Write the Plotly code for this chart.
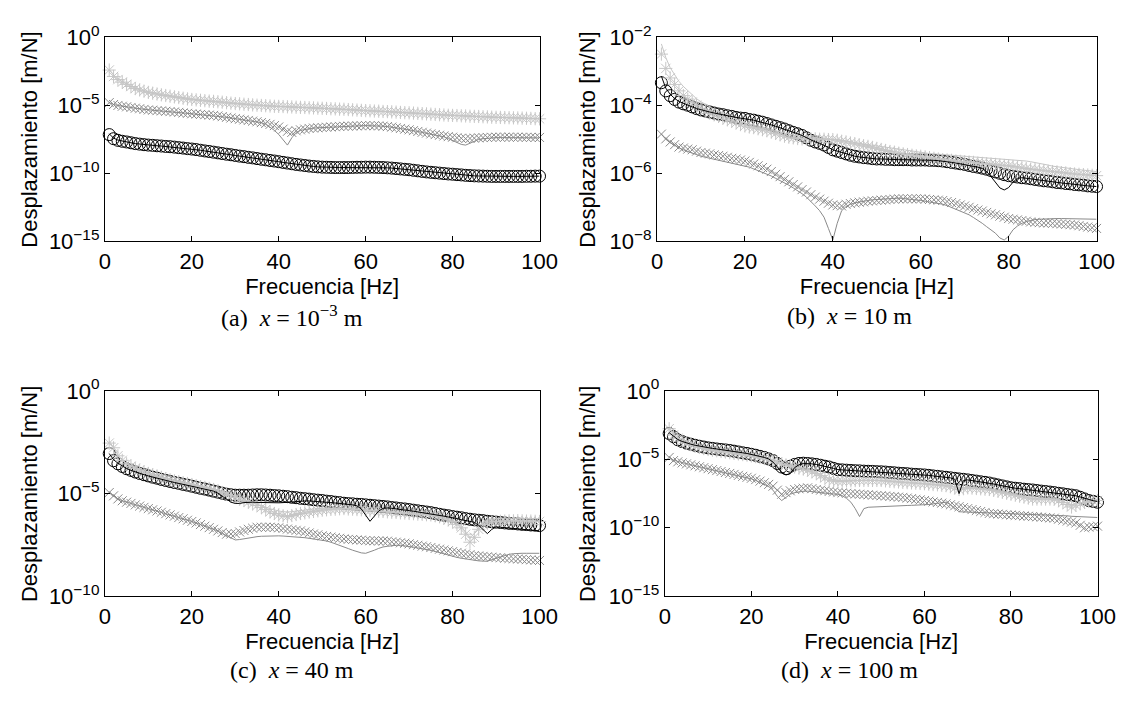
import plotly.graph_objects as go

# Frequencies of the sampled points [Hz]
freq = list(range(1, 101))

# ---- values, stored as log10(displacement [m/N]) ----
# Panel (a)  x = 1e-3 m
a_black_pts = [-7.16,-7.46,-7.58,-7.65,-7.70,-7.76,-7.82,-7.86,-7.90,-7.93,
 -7.95,-7.98,-8.00,-8.03,-8.05,-8.08,-8.12,-8.15,-8.19,-8.22,
 -8.26,-8.31,-8.36,-8.40,-8.45,-8.50,-8.55,-8.60,-8.64,-8.69,
 -8.74,-8.78,-8.83,-8.87,-8.92,-8.97,-9.01,-9.06,-9.10,-9.15,
 -9.20,-9.25,-9.30,-9.35,-9.39,-9.43,-9.47,-9.50,-9.53,-9.55,
 -9.56,-9.57,-9.58,-9.58,-9.58,-9.58,-9.57,-9.56,-9.56,-9.55,
 -9.55,-9.56,-9.57,-9.58,-9.60,-9.62,-9.65,-9.68,-9.71,-9.74,
 -9.78,-9.82,-9.86,-9.90,-9.93,-9.96,-9.99,-10.02,-10.05,-10.07,
 -10.10,-10.12,-10.15,-10.17,-10.19,-10.20,-10.21,-10.22,-10.23,-10.23,
 -10.23,-10.23,-10.23,-10.23,-10.23,-10.23,-10.22,-10.22,-10.21,-10.21]
a_black_line = [-7.10,-7.42,-7.56,-7.64,-7.70,-7.76,-7.82,-7.86,-7.90,-7.93,
 -7.95,-7.98,-8.00,-8.03,-8.05,-8.08,-8.12,-8.15,-8.19,-8.22,
 -8.26,-8.31,-8.36,-8.40,-8.45,-8.50,-8.55,-8.60,-8.64,-8.69,
 -8.74,-8.78,-8.83,-8.87,-8.92,-8.97,-9.01,-9.06,-9.10,-9.15,
 -9.20,-9.25,-9.30,-9.35,-9.39,-9.43,-9.47,-9.50,-9.53,-9.55,
 -9.56,-9.57,-9.58,-9.58,-9.58,-9.58,-9.57,-9.56,-9.56,-9.55,
 -9.55,-9.56,-9.57,-9.58,-9.60,-9.62,-9.65,-9.68,-9.71,-9.74,
 -9.78,-9.82,-9.86,-9.90,-9.93,-9.96,-9.99,-10.02,-10.05,-10.07,
 -10.10,-10.12,-10.15,-10.17,-10.19,-10.20,-10.21,-10.22,-10.23,-10.23,
 -10.23,-10.23,-10.23,-10.23,-10.23,-10.23,-10.22,-10.22,-10.21,-10.21]
a_gray_pts = [-4.81,-4.95,-5.02,-5.08,-5.12,-5.17,-5.22,-5.26,-5.31,-5.35,
 -5.37,-5.40,-5.42,-5.45,-5.47,-5.50,-5.53,-5.57,-5.60,-5.63,
 -5.65,-5.68,-5.70,-5.73,-5.75,-5.79,-5.84,-5.89,-5.94,-5.99,
 -6.03,-6.08,-6.12,-6.17,-6.22,-6.28,-6.34,-6.41,-6.50,-6.60,
 -6.76,-6.92,-7.00,-6.88,-6.81,-6.76,-6.71,-6.68,-6.66,-6.64,
 -6.62,-6.60,-6.58,-6.56,-6.55,-6.54,-6.53,-6.52,-6.51,-6.50,
 -6.50,-6.51,-6.52,-6.54,-6.57,-6.61,-6.66,-6.71,-6.76,-6.81,
 -6.87,-6.93,-6.99,-7.05,-7.11,-7.16,-7.21,-7.26,-7.31,-7.35,
 -7.39,-7.43,-7.46,-7.44,-7.42,-7.40,-7.38,-7.37,-7.36,-7.35,
 -7.35,-7.35,-7.35,-7.35,-7.35,-7.36,-7.36,-7.36,-7.37,-7.37]
a_gray_line = [-4.81,-4.95,-5.02,-5.08,-5.12,-5.17,-5.22,-5.26,-5.31,-5.35,
 -5.37,-5.40,-5.42,-5.45,-5.47,-5.50,-5.53,-5.57,-5.60,-5.63,
 -5.65,-5.68,-5.70,-5.73,-5.75,-5.79,-5.84,-5.89,-5.94,-5.99,
 -6.03,-6.08,-6.12,-6.17,-6.22,-6.28,-6.40,-6.60,-6.85,-7.15,
 -7.50,-7.93,-7.40,-7.00,-6.85,-6.78,-6.72,-6.68,-6.66,-6.64,
 -6.62,-6.60,-6.58,-6.56,-6.55,-6.54,-6.53,-6.52,-6.51,-6.50,
 -6.50,-6.51,-6.52,-6.54,-6.57,-6.61,-6.66,-6.71,-6.76,-6.81,
 -6.87,-6.93,-6.99,-7.05,-7.11,-7.16,-7.24,-7.32,-7.45,-7.60,
 -7.75,-7.88,-7.93,-7.78,-7.62,-7.52,-7.46,-7.42,-7.40,-7.38,
 -7.38,-7.38,-7.38,-7.38,-7.39,-7.39,-7.39,-7.40,-7.40,-7.40]
a_light_pts = [-2.42,-2.89,-3.12,-3.31,-3.47,-3.63,-3.78,-3.88,-3.97,-4.06,
 -4.12,-4.18,-4.24,-4.29,-4.34,-4.39,-4.44,-4.49,-4.54,-4.58,
 -4.61,-4.64,-4.67,-4.70,-4.72,-4.75,-4.78,-4.82,-4.85,-4.88,
 -4.90,-4.93,-4.95,-4.98,-5.00,-5.02,-5.04,-5.06,-5.08,-5.09,
 -5.10,-5.12,-5.13,-5.15,-5.16,-5.17,-5.19,-5.20,-5.22,-5.23,
 -5.24,-5.26,-5.27,-5.29,-5.30,-5.32,-5.34,-5.36,-5.38,-5.40,
 -5.41,-5.43,-5.44,-5.46,-5.47,-5.49,-5.51,-5.53,-5.55,-5.56,
 -5.58,-5.60,-5.62,-5.64,-5.66,-5.68,-5.70,-5.72,-5.74,-5.75,
 -5.76,-5.78,-5.79,-5.81,-5.82,-5.83,-5.85,-5.86,-5.88,-5.89,
 -5.90,-5.91,-5.92,-5.93,-5.94,-5.95,-5.96,-5.97,-5.99,-6.00]
a_light_line = [-2.35,-2.80,-3.08,-3.29,-3.46,-3.62,-3.76,-3.87,-3.96,-4.05,
 -4.12,-4.18,-4.24,-4.29,-4.34,-4.39,-4.44,-4.49,-4.54,-4.58,
 -4.61,-4.64,-4.67,-4.70,-4.72,-4.75,-4.78,-4.82,-4.85,-4.88,
 -4.90,-4.93,-4.95,-4.98,-5.00,-5.02,-5.04,-5.06,-5.08,-5.09,
 -5.10,-5.12,-5.13,-5.15,-5.16,-5.17,-5.19,-5.20,-5.22,-5.23,
 -5.24,-5.26,-5.27,-5.29,-5.30,-5.32,-5.34,-5.36,-5.38,-5.40,
 -5.41,-5.43,-5.44,-5.46,-5.47,-5.49,-5.51,-5.53,-5.55,-5.56,
 -5.58,-5.60,-5.62,-5.64,-5.66,-5.68,-5.70,-5.72,-5.74,-5.75,
 -5.76,-5.78,-5.79,-5.81,-5.82,-5.83,-5.85,-5.86,-5.88,-5.89,
 -5.90,-5.91,-5.92,-5.93,-5.94,-5.95,-5.96,-5.97,-5.99,-6.00]

# Panel (b)  x = 10 m
b_black_pts = [-3.34,-3.58,-3.72,-3.83,-3.91,-3.96,-4.00,-4.05,-4.10,-4.14,
 -4.17,-4.20,-4.23,-4.26,-4.28,-4.31,-4.33,-4.36,-4.38,-4.39,
 -4.42,-4.44,-4.47,-4.50,-4.54,-4.58,-4.62,-4.66,-4.70,-4.75,
 -4.80,-4.84,-4.89,-4.96,-5.03,-5.08,-5.12,-5.17,-5.24,-5.31,
 -5.35,-5.39,-5.43,-5.47,-5.50,-5.52,-5.54,-5.55,-5.57,-5.58,
 -5.58,-5.59,-5.59,-5.60,-5.60,-5.60,-5.60,-5.61,-5.61,-5.61,
 -5.61,-5.62,-5.62,-5.63,-5.64,-5.66,-5.68,-5.70,-5.72,-5.74,
 -5.77,-5.80,-5.82,-5.85,-5.88,-5.92,-5.96,-6.00,-6.04,-6.07,
 -6.09,-6.11,-6.13,-6.14,-6.16,-6.18,-6.20,-6.22,-6.23,-6.25,
 -6.27,-6.28,-6.30,-6.31,-6.33,-6.34,-6.35,-6.37,-6.38,-6.39]
b_black_line = [-3.15,-3.50,-3.68,-3.80,-3.89,-3.95,-4.00,-4.05,-4.10,-4.14,
 -4.17,-4.20,-4.23,-4.26,-4.28,-4.31,-4.33,-4.36,-4.38,-4.39,
 -4.42,-4.44,-4.47,-4.50,-4.54,-4.58,-4.62,-4.66,-4.70,-4.75,
 -4.80,-4.84,-4.89,-4.96,-5.03,-5.08,-5.12,-5.17,-5.24,-5.31,
 -5.35,-5.39,-5.43,-5.47,-5.50,-5.52,-5.54,-5.55,-5.57,-5.58,
 -5.58,-5.59,-5.59,-5.60,-5.60,-5.60,-5.60,-5.61,-5.61,-5.61,
 -5.61,-5.62,-5.62,-5.63,-5.64,-5.66,-5.68,-5.70,-5.72,-5.74,
 -5.77,-5.80,-5.82,-5.86,-5.95,-6.10,-6.28,-6.43,-6.49,-6.42,
 -6.26,-6.15,-6.13,-6.14,-6.16,-6.18,-6.20,-6.22,-6.23,-6.25,
 -6.27,-6.28,-6.30,-6.31,-6.33,-6.34,-6.35,-6.37,-6.38,-6.39]
b_gray_pts = [-4.85,-4.99,-5.08,-5.16,-5.23,-5.26,-5.29,-5.31,-5.35,-5.39,
 -5.41,-5.43,-5.46,-5.48,-5.50,-5.53,-5.56,-5.58,-5.61,-5.64,
 -5.68,-5.73,-5.78,-5.83,-5.88,-5.95,-6.03,-6.10,-6.18,-6.25,
 -6.33,-6.40,-6.48,-6.55,-6.63,-6.70,-6.76,-6.82,-6.88,-6.93,
 -6.95,-6.96,-6.91,-6.89,-6.87,-6.85,-6.84,-6.82,-6.81,-6.80,
 -6.79,-6.78,-6.77,-6.76,-6.75,-6.75,-6.75,-6.75,-6.75,-6.75,
 -6.76,-6.77,-6.78,-6.79,-6.80,-6.83,-6.86,-6.89,-6.93,-6.96,
 -7.00,-7.04,-7.08,-7.11,-7.15,-7.19,-7.22,-7.26,-7.29,-7.33,
 -7.35,-7.37,-7.39,-7.41,-7.43,-7.44,-7.45,-7.46,-7.46,-7.47,
 -7.48,-7.49,-7.50,-7.51,-7.52,-7.54,-7.56,-7.58,-7.60,-7.62]
b_gray_line = [-4.85,-5.00,-5.10,-5.18,-5.25,-5.31,-5.36,-5.41,-5.46,-5.50,
 -5.53,-5.56,-5.59,-5.62,-5.64,-5.67,-5.70,-5.73,-5.75,-5.78,
 -5.82,-5.87,-5.92,-5.97,-6.02,-6.08,-6.15,-6.21,-6.28,-6.35,
 -6.43,-6.51,-6.60,-6.70,-6.82,-6.96,-7.10,-7.29,-7.62,-7.96,
 -7.47,-7.10,-6.98,-6.91,-6.87,-6.84,-6.82,-6.80,-6.78,-6.77,
 -6.76,-6.75,-6.74,-6.73,-6.73,-6.74,-6.75,-6.77,-6.78,-6.80,
 -6.82,-6.84,-6.86,-6.89,-6.91,-6.95,-7.00,-7.05,-7.10,-7.15,
 -7.22,-7.30,-7.38,-7.47,-7.57,-7.66,-7.76,-7.90,-7.96,-7.85,
 -7.66,-7.55,-7.47,-7.42,-7.38,-7.36,-7.35,-7.34,-7.33,-7.33,
 -7.33,-7.33,-7.33,-7.33,-7.33,-7.34,-7.34,-7.34,-7.35,-7.35]
b_light_pts = [-2.50,-2.92,-3.20,-3.39,-3.58,-3.72,-3.82,-3.91,-4.00,-4.09,
 -4.16,-4.23,-4.28,-4.33,-4.38,-4.43,-4.47,-4.52,-4.57,-4.61,
 -4.64,-4.66,-4.69,-4.72,-4.75,-4.79,-4.83,-4.87,-4.91,-4.94,
 -4.96,-4.98,-4.99,-4.99,-4.99,-4.99,-5.00,-5.00,-5.01,-5.01,
 -5.03,-5.06,-5.08,-5.11,-5.13,-5.16,-5.19,-5.21,-5.24,-5.27,
 -5.30,-5.33,-5.36,-5.38,-5.41,-5.43,-5.45,-5.47,-5.49,-5.50,
 -5.52,-5.54,-5.56,-5.58,-5.60,-5.61,-5.62,-5.64,-5.65,-5.66,
 -5.67,-5.68,-5.70,-5.71,-5.72,-5.73,-5.74,-5.76,-5.77,-5.78,
 -5.80,-5.82,-5.84,-5.86,-5.88,-5.89,-5.91,-5.92,-5.94,-5.95,
 -5.96,-5.98,-5.99,-6.01,-6.02,-6.03,-6.04,-6.05,-6.06,-6.07]
b_light_line = [-2.20,-2.60,-2.90,-3.12,-3.30,-3.45,-3.58,-3.70,-3.81,-3.90,
 -3.98,-4.06,-4.12,-4.17,-4.21,-4.27,-4.34,-4.41,-4.47,-4.52,
 -4.55,-4.57,-4.60,-4.63,-4.67,-4.71,-4.75,-4.79,-4.82,-4.85,
 -4.88,-4.90,-4.92,-4.93,-4.94,-4.95,-4.96,-4.97,-4.98,-4.99,
 -5.01,-5.03,-5.05,-5.08,-5.10,-5.12,-5.14,-5.16,-5.18,-5.20,
 -5.22,-5.24,-5.26,-5.28,-5.30,-5.32,-5.34,-5.36,-5.38,-5.40,
 -5.41,-5.42,-5.43,-5.44,-5.45,-5.46,-5.47,-5.48,-5.49,-5.50,
 -5.51,-5.51,-5.52,-5.52,-5.53,-5.54,-5.55,-5.56,-5.57,-5.58,
 -5.59,-5.61,-5.62,-5.64,-5.66,-5.68,-5.70,-5.73,-5.76,-5.79,
 -5.81,-5.83,-5.85,-5.86,-5.88,-5.89,-5.91,-5.92,-5.94,-5.95]

# Panel (c)  x = 40 m
c_black_pts = [-3.05,-3.40,-3.55,-3.68,-3.79,-3.87,-3.95,-4.02,-4.08,-4.14,
 -4.20,-4.25,-4.31,-4.36,-4.41,-4.46,-4.50,-4.55,-4.59,-4.64,
 -4.69,-4.74,-4.78,-4.83,-4.88,-4.93,-4.98,-5.03,-5.06,-5.08,
 -5.08,-5.08,-5.08,-5.07,-5.06,-5.06,-5.07,-5.08,-5.10,-5.11,
 -5.13,-5.15,-5.18,-5.20,-5.23,-5.25,-5.27,-5.30,-5.32,-5.34,
 -5.37,-5.39,-5.42,-5.44,-5.47,-5.49,-5.50,-5.52,-5.53,-5.55,
 -5.57,-5.59,-5.61,-5.63,-5.65,-5.68,-5.70,-5.73,-5.75,-5.78,
 -5.81,-5.84,-5.87,-5.90,-5.93,-5.97,-6.01,-6.05,-6.08,-6.12,
 -6.15,-6.18,-6.22,-6.25,-6.28,-6.30,-6.32,-6.35,-6.37,-6.39,
 -6.41,-6.43,-6.45,-6.46,-6.48,-6.50,-6.51,-6.53,-6.54,-6.56]
c_black_line = [-3.05,-3.35,-3.52,-3.66,-3.78,-3.87,-3.95,-4.02,-4.08,-4.14,
 -4.20,-4.25,-4.31,-4.36,-4.41,-4.46,-4.50,-4.55,-4.59,-4.64,
 -4.69,-4.74,-4.78,-4.83,-4.88,-4.98,-5.12,-5.28,-5.42,-5.48,
 -5.48,-5.44,-5.42,-5.42,-5.43,-5.44,-5.44,-5.45,-5.45,-5.45,
 -5.44,-5.42,-5.40,-5.38,-5.37,-5.36,-5.36,-5.37,-5.38,-5.40,
 -5.42,-5.44,-5.46,-5.48,-5.50,-5.52,-5.55,-5.60,-5.75,-6.05,
 -6.35,-6.10,-5.85,-5.72,-5.70,-5.72,-5.74,-5.77,-5.80,-5.83,
 -5.86,-5.89,-5.93,-5.96,-6.00,-6.03,-6.07,-6.10,-6.14,-6.17,
 -6.22,-6.27,-6.31,-6.36,-6.40,-6.55,-6.75,-6.95,-6.75,-6.62,
 -6.64,-6.66,-6.68,-6.70,-6.72,-6.74,-6.76,-6.78,-6.80,-6.82]
c_gray_pts = [-4.95,-5.11,-5.26,-5.35,-5.42,-5.48,-5.55,-5.61,-5.67,-5.73,
 -5.79,-5.85,-5.91,-5.98,-6.04,-6.10,-6.17,-6.23,-6.30,-6.36,
 -6.43,-6.51,-6.59,-6.66,-6.74,-6.82,-6.90,-6.98,-6.97,-6.95,
 -6.87,-6.80,-6.74,-6.69,-6.64,-6.64,-6.64,-6.64,-6.65,-6.67,
 -6.70,-6.73,-6.76,-6.79,-6.82,-6.87,-6.92,-6.97,-7.01,-7.06,
 -7.09,-7.12,-7.15,-7.18,-7.21,-7.23,-7.24,-7.26,-7.27,-7.29,
 -7.30,-7.30,-7.31,-7.31,-7.32,-7.35,-7.37,-7.40,-7.42,-7.45,
 -7.49,-7.52,-7.56,-7.59,-7.63,-7.67,-7.71,-7.75,-7.79,-7.83,
 -7.87,-7.91,-7.94,-7.98,-8.02,-8.04,-8.06,-8.08,-8.10,-8.12,
 -8.13,-8.15,-8.16,-8.18,-8.19,-8.20,-8.22,-8.23,-8.25,-8.26]
c_gray_line = [-4.95,-5.11,-5.26,-5.35,-5.42,-5.48,-5.55,-5.61,-5.67,-5.73,
 -5.79,-5.85,-5.91,-5.98,-6.04,-6.10,-6.17,-6.23,-6.30,-6.36,
 -6.43,-6.51,-6.59,-6.66,-6.74,-6.82,-6.95,-7.05,-7.15,-7.26,
 -7.24,-7.20,-7.16,-7.12,-7.10,-7.08,-7.07,-7.06,-7.06,-7.06,
 -7.07,-7.08,-7.10,-7.11,-7.13,-7.15,-7.18,-7.21,-7.23,-7.26,
 -7.31,-7.37,-7.44,-7.52,-7.60,-7.68,-7.76,-7.83,-7.89,-7.91,
 -7.85,-7.76,-7.67,-7.60,-7.57,-7.54,-7.52,-7.52,-7.54,-7.57,
 -7.61,-7.65,-7.68,-7.72,-7.76,-7.82,-7.88,-7.95,-8.01,-8.07,
 -8.11,-8.15,-8.19,-8.23,-8.26,-8.28,-8.29,-8.30,-8.22,-8.15,
 -8.08,-8.01,-7.96,-7.93,-7.91,-7.91,-7.91,-7.91,-7.91,-7.91]
c_light_pts = [-2.54,-2.77,-3.16,-3.38,-3.55,-3.67,-3.77,-3.86,-3.94,-4.02,
 -4.08,-4.14,-4.21,-4.27,-4.33,-4.38,-4.42,-4.47,-4.51,-4.56,
 -4.61,-4.66,-4.70,-4.75,-4.80,-4.87,-4.95,-5.03,-5.11,-5.19,
 -5.27,-5.34,-5.42,-5.50,-5.58,-5.68,-5.78,-5.89,-5.97,-6.04,
 -6.08,-6.12,-6.07,-6.02,-5.97,-5.94,-5.90,-5.87,-5.84,-5.81,
 -5.79,-5.77,-5.76,-5.74,-5.73,-5.75,-5.76,-5.78,-5.79,-5.81,
 -5.83,-5.84,-5.86,-5.87,-5.89,-5.91,-5.92,-5.94,-5.95,-5.97,
 -5.98,-6.00,-6.01,-6.03,-6.04,-6.08,-6.13,-6.20,-6.28,-6.36,
 -6.50,-6.67,-6.98,-7.37,-7.13,-6.74,-6.51,-6.44,-6.39,-6.36,
 -6.35,-6.34,-6.33,-6.33,-6.32,-6.33,-6.34,-6.34,-6.35,-6.36]
c_light_line = [-2.45,-2.75,-3.12,-3.36,-3.54,-3.67,-3.77,-3.86,-3.94,-4.02,
 -4.08,-4.14,-4.21,-4.27,-4.33,-4.38,-4.42,-4.47,-4.51,-4.56,
 -4.61,-4.66,-4.70,-4.75,-4.80,-4.86,-4.93,-5.00,-5.08,-5.15,
 -5.22,-5.29,-5.36,-5.43,-5.50,-5.58,-5.66,-5.74,-5.80,-5.85,
 -5.88,-5.90,-5.88,-5.85,-5.82,-5.79,-5.77,-5.75,-5.73,-5.72,
 -5.71,-5.71,-5.71,-5.72,-5.72,-5.74,-5.76,-5.78,-5.80,-5.82,
 -5.83,-5.84,-5.86,-5.87,-5.89,-5.91,-5.92,-5.94,-5.95,-5.97,
 -5.98,-6.00,-6.01,-6.03,-6.04,-6.08,-6.13,-6.20,-6.28,-6.36,
 -6.45,-6.60,-6.85,-7.15,-6.95,-6.62,-6.40,-6.30,-6.25,-6.22,
 -6.21,-6.20,-6.20,-6.20,-6.20,-6.21,-6.21,-6.22,-6.22,-6.22]

# Panel (d)  x = 100 m
d_black_pts = [-3.11,-3.34,-3.57,-3.70,-3.81,-3.89,-3.97,-4.04,-4.10,-4.16,
 -4.20,-4.24,-4.28,-4.31,-4.35,-4.40,-4.46,-4.52,-4.57,-4.63,
 -4.70,-4.78,-4.86,-4.97,-5.09,-5.30,-5.56,-5.68,-5.50,-5.37,
 -5.30,-5.28,-5.30,-5.33,-5.37,-5.43,-5.50,-5.56,-5.66,-5.75,
 -5.77,-5.79,-5.81,-5.83,-5.84,-5.86,-5.87,-5.88,-5.90,-5.91,
 -5.93,-5.96,-5.98,-6.01,-6.03,-6.05,-6.08,-6.10,-6.12,-6.14,
 -6.17,-6.21,-6.24,-6.28,-6.31,-6.35,-6.39,-6.43,-6.46,-6.50,
 -6.55,-6.59,-6.64,-6.68,-6.73,-6.80,-6.87,-6.94,-7.01,-7.08,
 -7.11,-7.14,-7.18,-7.21,-7.24,-7.28,-7.32,-7.35,-7.39,-7.43,
 -7.48,-7.52,-7.57,-7.61,-7.66,-7.77,-7.89,-8.01,-8.07,-8.13]
d_black_line = [-3.05,-3.30,-3.55,-3.69,-3.81,-3.89,-3.97,-4.04,-4.10,-4.16,
 -4.20,-4.24,-4.28,-4.31,-4.35,-4.40,-4.46,-4.52,-4.57,-4.63,
 -4.70,-4.78,-4.86,-4.97,-5.20,-5.55,-5.95,-6.14,-6.05,-5.60,
 -5.40,-5.30,-5.30,-5.33,-5.37,-5.43,-5.50,-5.56,-5.66,-5.75,
 -5.77,-5.79,-5.81,-5.83,-5.84,-5.86,-5.87,-5.88,-5.90,-5.91,
 -5.93,-5.96,-5.98,-6.01,-6.03,-6.05,-6.08,-6.10,-6.12,-6.14,
 -6.17,-6.21,-6.24,-6.28,-6.31,-6.35,-6.45,-7.50,-6.55,-6.50,
 -6.55,-6.59,-6.64,-6.68,-6.73,-6.80,-6.87,-6.94,-7.01,-7.08,
 -7.11,-7.14,-7.18,-7.21,-7.24,-7.28,-7.32,-7.35,-7.39,-7.43,
 -7.48,-7.52,-7.57,-7.61,-7.66,-7.75,-7.85,-7.95,-8.02,-8.08]
d_gray_pts = [-4.86,-5.09,-5.18,-5.26,-5.33,-5.40,-5.47,-5.54,-5.61,-5.68,
 -5.75,-5.82,-5.89,-5.96,-6.03,-6.10,-6.17,-6.24,-6.31,-6.38,
 -6.48,-6.59,-6.71,-6.83,-6.96,-7.25,-7.55,-7.43,-7.30,-7.20,
 -7.15,-7.11,-7.08,-7.14,-7.20,-7.25,-7.29,-7.34,-7.38,-7.43,
 -7.45,-7.48,-7.50,-7.53,-7.55,-7.57,-7.59,-7.62,-7.64,-7.66,
 -7.68,-7.71,-7.73,-7.76,-7.78,-7.83,-7.87,-7.92,-7.96,-8.01,
 -8.06,-8.11,-8.15,-8.20,-8.25,-8.32,-8.39,-8.46,-8.53,-8.60,
 -8.67,-8.74,-8.81,-8.88,-8.95,-8.97,-9.00,-9.02,-9.05,-9.07,
 -9.09,-9.11,-9.14,-9.16,-9.18,-9.20,-9.23,-9.25,-9.28,-9.30,
 -9.37,-9.44,-9.51,-9.58,-9.65,-9.82,-10.00,-9.95,-9.92,-9.88]
d_gray_line = [-4.86,-5.05,-5.15,-5.24,-5.32,-5.40,-5.47,-5.54,-5.61,-5.68,
 -5.75,-5.82,-5.89,-5.96,-6.03,-6.10,-6.18,-6.26,-6.34,-6.42,
 -6.54,-6.67,-6.80,-6.98,-7.25,-7.70,-8.01,-7.80,-7.55,-7.43,
 -7.37,-7.33,-7.32,-7.36,-7.43,-7.46,-7.48,-7.50,-7.53,-7.55,
 -7.65,-7.85,-8.13,-8.60,-9.18,-8.60,-8.50,-8.48,-8.48,-8.48,
 -8.46,-8.44,-8.42,-8.40,-8.38,-8.37,-8.36,-8.35,-8.34,-8.33,
 -8.30,-8.25,-8.20,-8.16,-8.13,-8.30,-8.60,-8.83,-8.84,-8.85,
 -8.87,-8.89,-8.91,-8.93,-8.95,-8.95,-8.95,-8.95,-8.95,-8.95,
 -8.96,-8.97,-8.98,-8.99,-9.00,-9.01,-9.03,-9.05,-9.06,-9.07,
 -9.09,-9.11,-9.13,-9.16,-9.18,-9.20,-9.21,-9.22,-9.24,-9.25]
d_light_pts = [-2.76,-3.22,-3.46,-3.66,-3.81,-3.93,-4.04,-4.13,-4.21,-4.28,
 -4.33,-4.37,-4.42,-4.46,-4.51,-4.56,-4.60,-4.65,-4.69,-4.74,
 -4.80,-4.87,-4.94,-5.01,-5.09,-5.21,-5.33,-5.41,-5.48,-5.56,
 -5.64,-5.71,-5.79,-5.91,-6.03,-6.19,-6.35,-6.50,-6.56,-6.61,
 -6.60,-6.58,-6.57,-6.55,-6.54,-6.54,-6.54,-6.54,-6.54,-6.54,
 -6.57,-6.60,-6.63,-6.65,-6.68,-6.70,-6.72,-6.74,-6.76,-6.78,
 -6.81,-6.84,-6.86,-6.89,-6.92,-7.00,-7.10,-7.20,-7.14,-7.08,
 -7.10,-7.13,-7.15,-7.18,-7.20,-7.27,-7.34,-7.41,-7.48,-7.55,
 -7.62,-7.69,-7.76,-7.83,-7.90,-7.90,-7.90,-7.90,-7.90,-7.90,
 -8.02,-8.15,-8.30,-8.48,-8.36,-8.25,-8.15,-8.08,-8.04,-8.01]
d_light_line = [-2.70,-3.18,-3.44,-3.65,-3.80,-3.93,-4.04,-4.13,-4.21,-4.28,
 -4.33,-4.37,-4.42,-4.46,-4.51,-4.56,-4.60,-4.65,-4.69,-4.74,
 -4.80,-4.87,-4.94,-5.01,-5.09,-5.21,-5.33,-5.41,-5.48,-5.56,
 -5.64,-5.71,-5.79,-5.91,-6.03,-6.17,-6.30,-6.42,-6.50,-6.55,
 -6.56,-6.55,-6.54,-6.53,-6.52,-6.52,-6.52,-6.52,-6.53,-6.54,
 -6.56,-6.59,-6.62,-6.65,-6.68,-6.70,-6.72,-6.74,-6.76,-6.78,
 -6.81,-6.84,-6.86,-6.89,-6.92,-6.96,-7.02,-7.06,-7.06,-7.06,
 -7.10,-7.13,-7.15,-7.18,-7.20,-7.27,-7.34,-7.41,-7.48,-7.55,
 -7.62,-7.69,-7.76,-7.83,-7.88,-7.88,-7.88,-7.88,-7.89,-7.90,
 -7.98,-8.08,-8.20,-8.30,-8.25,-8.18,-8.10,-8.05,-8.02,-8.00]

# Axis settings per panel
panel_letters = ["a", "b", "c", "d"]
panel_positions = ["10<sup>−3</sup>", "10", "40", "100"]
y_log_ranges = [(-15, 0), (-8, -2), (-10, 0), (-15, 0)]
y_tick_exponents = [[-15, -10, -5, 0], [-8, -6, -4, -2], [-10, -5, 0], [-15, -10, -5, 0]]
x_ticks = [0, 20, 40, 60, 80, 100]

panels = [
    (a_black_line, a_black_pts, a_gray_line, a_gray_pts, a_light_line, a_light_pts),
    (b_black_line, b_black_pts, b_gray_line, b_gray_pts, b_light_line, b_light_pts),
    (c_black_line, c_black_pts, c_gray_line, c_gray_pts, c_light_line, c_light_pts),
    (d_black_line, d_black_pts, d_gray_line, d_gray_pts, d_light_line, d_light_pts),
]

W, H = 1140, 707
# plot boxes in pixels: (left, right, top, bottom)
boxes = [(101, 545, 22, 235), (665, 1114, 22, 235), (101, 545, 391, 605), (673, 1115, 391, 605)]

BLACK = "#000000"
GRAY = "#8a8a8a"
LIGHT = "#c6c6c6"
FONT = "Liberation Sans, Arial, Helvetica, sans-serif"
SERIF = "Liberation Serif, Times New Roman, serif"

fig = go.Figure()
layout = dict(width=W, height=H, margin=dict(l=0, r=0, t=0, b=0),
              paper_bgcolor="white", plot_bgcolor="white", showlegend=False,
              font=dict(family=FONT, size=22, color="black"))
annotations = []

def tolin(vals):
    return [10 ** v for v in vals]

for i, (bl, bp, gl, gp, ll, lp) in enumerate(panels):
    n = "" if i == 0 else str(i + 1)
    xa, ya = "x" + n, "y" + n
    L, R, T, B = boxes[i]
    style = [
        (bp, BLACK, "circle-open", 12),
        (gp, GRAY, "x-thin-open", 9),
        (lp, LIGHT, "asterisk-open", 11),
    ]
    for vals, col, sym, sz in style:
        fig.add_trace(go.Scatter(x=freq, y=tolin(vals), mode="markers", xaxis=xa, yaxis=ya,
                                 cliponaxis=False, hoverinfo="skip",
                                 marker=dict(symbol=sym, size=sz, color=col,
                                             line=dict(color=col, width=1))))
    for vals, col in [(ll, LIGHT), (gl, GRAY), (bl, BLACK)]:
        fig.add_trace(go.Scatter(x=freq, y=tolin(vals), mode="lines", xaxis=xa, yaxis=ya,
                                 hoverinfo="skip", line=dict(color=col, width=1)))

    exps = y_tick_exponents[i]
    layout["xaxis" + n] = dict(
        domain=[L / W, R / W], anchor=ya, range=[0, 100], tickvals=x_ticks,
        ticks="inside", ticklen=5, tickwidth=1, tickcolor="black",
        showline=True, linecolor="black", linewidth=1, mirror="ticks",
        showgrid=False, zeroline=False, tickfont=dict(size=22, family=FONT),
        title=dict(text="Frecuencia [Hz]", font=dict(size=22, family=FONT), standoff=2))
    layout["yaxis" + n] = dict(
        domain=[1 - B / H, 1 - T / H], anchor=xa, type="log",
        range=list(y_log_ranges[i]),
        tickvals=[10 ** e for e in exps],
        ticktext=["10<sup>" + (str(e).replace("-", "−")) + "</sup>" for e in exps],
        ticks="inside", ticklen=5, tickwidth=1, tickcolor="black",
        showline=True, linecolor="black", linewidth=1, mirror="ticks",
        showgrid=False, zeroline=False, tickfont=dict(size=22, family=FONT))
    # y axis title
    annotations.append(dict(text="Desplazamiento [m/N]", x=(24 if i % 2 == 0 else 594) / W,
                            y=1 - (T + B) / 2 / H, xref="paper", yref="paper",
                            showarrow=False, textangle=-90, xanchor="center", yanchor="middle",
                            font=dict(size=22, family=FONT)))
    # caption
    cap_y = 313 if i < 2 else 682
    cap_x = 292 if i % 2 == 0 else 862
    annotations.append(dict(
        text="(" + panel_letters[i] + ")  <i>x</i> = " + panel_positions[i] + " m",
        x=cap_x / W, y=1 - cap_y / H, xref="paper", yref="paper", showarrow=False,
        xanchor="center", yanchor="middle", font=dict(size=24, family=SERIF)))

layout["annotations"] = annotations
fig.update_layout(**layout)
fig.write_html("out.html", config={"displayModeBar": False},
               post_script="document.body.style.margin='0px';document.body.style.overflow='hidden';")
